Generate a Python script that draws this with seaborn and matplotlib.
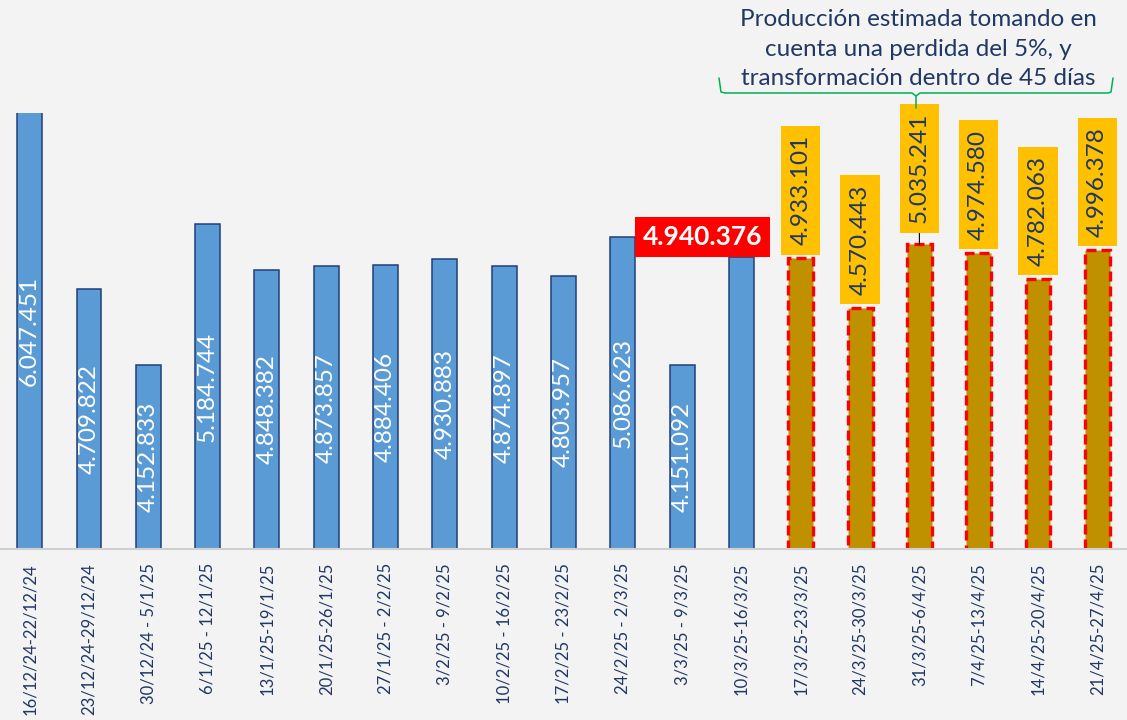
import numpy as np
import pandas as pd
import seaborn as sns
import matplotlib.pyplot as plt
from matplotlib.lines import Line2D

# weekly production, real vs estimated
weeks = ['16/12/24-22/12/24', '23/12/24-29/12/24', '30/12/24 - 5/1/25', '6/1/25 - 12/1/25',
         '13/1/25-19/1/25', '20/1/25-26/1/25', '27/1/25 - 2/2/25', '3/2/25 - 9/2/25',
         '10/2/25 - 16/2/25', '17/2/25 - 23/2/25', '24/2/25 - 2/3/25', '3/3/25 - 9/3/25',
         '10/3/25-16/3/25', '17/3/25-23/3/25', '24/3/25-30/3/25', '31/3/25-6/4/25',
         '7/4/25-13/4/25', '14/4/25-20/4/25', '21/4/25-27/4/25']
real = [6047451, 4709822, 4152833, 5184744, 4848382, 4873857, 4884406, 4930883,
        4874897, 4803957, 5086623, 4151092, 4940376]
estimado = [4933101, 4570443, 5035241, 4974580, 4782063, 4996378]

title = 'Producción estimada tomando en\ncuenta una perdida del 5%, y\ntransformación dentro de 45 días'

BLUE = '#5b9bd5'
GOLD = '#bf9000'
NAVY = '#1f3864'
Y_LO, Y_HI = 2.8e6, 6.0e6


def fmt(v):
    return f'{v:,}'.replace(',', '.')


df = pd.DataFrame({
    'semana': weeks,
    'valor': real + estimado,
    'tipo': ['real'] * len(real) + ['estimado'] * len(estimado),
})

sns.set_style('white')
plt.rcParams['font.family'] = ['Lato', 'DejaVu Sans']

fig = plt.figure(figsize=(11.27, 7.2), dpi=100, facecolor='#f3f3f3')
ax = fig.add_axes([0, 171 / 720, 1, 436 / 720])
ax.set_facecolor('none')

sns.barplot(data=df, x='semana', y='valor', hue='tipo', order=weeks,
            palette={'real': BLUE, 'estimado': GOLD}, dodge=False, width=0.42,
            saturation=1, legend=False, ax=ax)

for bar in ax.containers[0]:
    bar.set_edgecolor('#203f7a')
    bar.set_linewidth(1.1)
for bar in ax.containers[1]:
    bar.set_edgecolor('#ff0000')
    bar.set_linewidth(2.4)
    bar.set_linestyle((0, (3, 1.5)))

ax.set_xlim(-0.5, len(weeks) - 0.5)
ax.set_ylim(Y_LO, Y_HI)

# white labels inside the blue bars (last real week is labelled in red)
for i, v in enumerate(real[:-1]):
    ymid = (Y_LO + min(v, Y_HI)) / 2
    ax.text(i, ymid, fmt(v), rotation=90, ha='center', va='center',
            color='white', fontsize=17.5)

i_last = len(real) - 1
ax.annotate(fmt(real[-1]), xy=(i_last, real[-1]), xytext=(-39, 8),
            textcoords='offset pixels', ha='center', va='bottom',
            color='white', fontsize=19, fontweight='bold',
            bbox=dict(boxstyle='square,pad=0.3', fc='#ff0000', ec='none'),
            annotation_clip=False)

# yellow boxed labels over the estimated bars
for k, v in enumerate(estimado):
    i = len(real) + k
    lift = 21 if v == max(estimado) else 13
    ax.annotate(fmt(v), xy=(i, v), xytext=(0, lift), textcoords='offset pixels',
                rotation=90, ha='center', va='bottom', color=NAVY, fontsize=17.5,
                bbox=dict(boxstyle='square,pad=0.38', fc='#ffc000', ec='none'),
                arrowprops=dict(arrowstyle='-', color='black', lw=0.8,
                                shrinkA=0, shrinkB=0) if lift > 13 else None,
                annotation_clip=False)

ax.set_xticks(range(len(weeks)))
ax.set_xticklabels(weeks, rotation=90, color=NAVY, fontsize=12)
ax.set_xticks(np.arange(len(weeks)) + 0.5, minor=True)
ax.tick_params(axis='x', which='major', length=0, pad=10)
ax.tick_params(axis='x', which='minor', length=4, color='#c8c8c8', width=1)
ax.set_yticks([])
ax.set_xlabel('')
ax.set_ylabel('')
for s in ['top', 'left', 'right']:
    ax.spines[s].set_visible(False)
ax.spines['bottom'].set_color('#d0d0d0')
ax.spines['bottom'].set_linewidth(1.5)

# note and green bracket above the estimate
fig.text(918 / 1127, 1 - 49 / 720, title, ha='center', va='center',
         color=NAVY, fontsize=17.5, linespacing=1.5)


def px(x, y):
    return x / 1127, 1 - y / 720


pts_l = [px(719, 78), px(721, 92), px(725, 93), px(912, 93), px(916, 96), px(916, 108)]
pts_r = [px(916, 96), px(920, 93), px(1108, 93), px(1111, 92), px(1113, 78)]
for pts in (pts_l, pts_r):
    xs, ys = zip(*pts)
    fig.add_artist(Line2D(xs, ys, color='#00b050', lw=1.1, transform=fig.transFigure))

fig.savefig('out.png', dpi=100, facecolor=fig.get_facecolor())
